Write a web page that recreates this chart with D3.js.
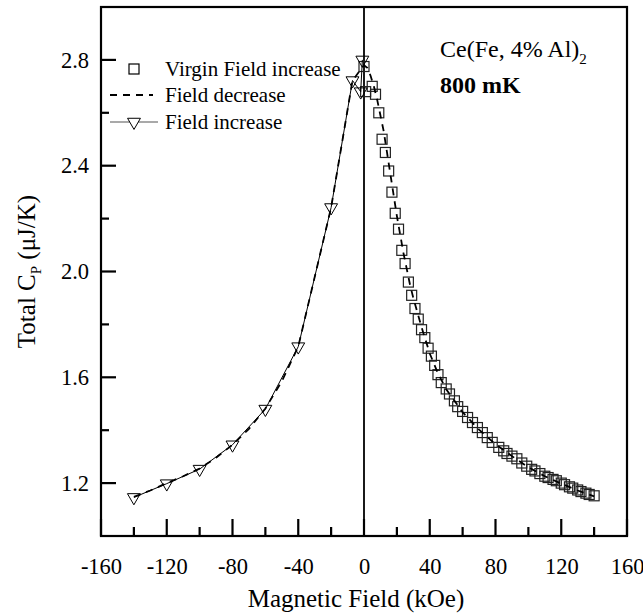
<!DOCTYPE html>
<html>
<head>
<meta charset="utf-8">
<script src="https://d3js.org/d3.v7.min.js"></script>
<style>
  body { margin: 0; background: #fff; }
  text { font-family: "Liberation Serif", "Times New Roman", serif; fill: #000; }
</style>
</head>
<body>
<div id="chart"></div>
<script>
// field increase (triangles, solid line)
var incField = [-140, -120, -100, -80, -60, -40, -20, -7, -2, -1]
var incCp    = [1.146, 1.198, 1.253, 1.345, 1.48, 1.716, 2.242, 2.722, 2.68, 2.80]

// field decrease (dashed line)
var decField = [-140, -130, -120, -110, -100, -90, -80, -70, -60, -50, -40, -20, -7, 0,
                2, 4, 6, 8, 10, 12, 14, 16, 18, 20, 22, 24, 26, 28, 30, 35, 40, 45, 50,
                60, 70, 80, 90, 100, 110, 120, 130, 140]
var decCp    = [1.148, 1.172, 1.2, 1.226, 1.255, 1.296, 1.345, 1.405, 1.482, 1.585, 1.716, 2.242, 2.722, 2.78,
                2.77, 2.74, 2.70, 2.65, 2.59, 2.53, 2.45, 2.37, 2.29, 2.21, 2.14, 2.07, 2.01, 1.95, 1.90, 1.79, 1.69, 1.615, 1.555,
                1.468, 1.402, 1.347, 1.302, 1.26, 1.226, 1.198, 1.172, 1.15]

// virgin field increase (open squares)
var virField = [0, 1, 5, 7, 9, 11, 13, 15, 17, 19, 21, 23, 25, 27, 29, 31, 33, 35, 37, 39, 41, 43, 45, 47,
                50, 52, 55, 57, 60, 63, 66, 69, 72, 75, 78, 82, 85, 87, 90, 93, 96, 99, 102, 104, 107,
                110, 112, 115, 117, 120, 122, 125, 127, 130, 132, 135, 137, 140]
var virCp    = [2.775, 2.68, 2.70, 2.67, 2.60, 2.50, 2.45, 2.38, 2.30, 2.22, 2.16, 2.08, 2.03, 1.96, 1.91, 1.86, 1.82, 1.78, 1.75, 1.71, 1.68, 1.645, 1.61, 1.58,
                1.556, 1.537, 1.511, 1.489, 1.471, 1.448, 1.429, 1.41, 1.391, 1.372, 1.354, 1.335, 1.322, 1.312, 1.302, 1.292, 1.276, 1.264, 1.252, 1.246, 1.236,
                1.226, 1.221, 1.214, 1.209, 1.2, 1.194, 1.186, 1.181, 1.174, 1.168, 1.162, 1.157, 1.152]

var xTicks = [-160, -120, -80, -40, 0, 40, 80, 120, 160]
var xMinor = [-140, -100, -60, -20, 20, 60, 100, 140]
var yTicks = [1.2, 1.6, 2.0, 2.4, 2.8]
var yMinor = [1.4, 1.8, 2.2, 2.6]
var legendLabels = ["Virgin Field increase", "Field decrease", "Field increase"]

// set the dimensions and margins of the graph
var W = 643, H = 614
var margin = {top: 7, right: 16, bottom: 78, left: 101}
var width = W - margin.left - margin.right
var height = H - margin.top - margin.bottom

var svg = d3.select("#chart")
  .append("svg")
    .attr("width", W)
    .attr("height", H)
  .append("g")
    .attr("transform", "translate(" + margin.left + "," + margin.top + ")")

var x = d3.scaleLinear().domain([-160, 160]).range([0, width])
var y = d3.scaleLinear().domain([1.0, 3.0]).range([height, 0])

// axes (labels)
var xAx = svg.append("g")
  .attr("transform", "translate(0," + height + ")")
  .call(d3.axisBottom(x).tickValues(xTicks).tickSize(0).tickPadding(22)
    .tickFormat(function(d) { return String(d) }))
xAx.selectAll("text").style("font-size", "22.5px")
xAx.select(".domain").remove()

var yAx = svg.append("g")
  .call(d3.axisLeft(y).tickValues(yTicks).tickSize(0).tickPadding(12).tickFormat(d3.format(".1f")))
yAx.selectAll("text").style("font-size", "22.5px")
yAx.select(".domain").remove()

// tick marks, pointing inward (major long, minor short)
var xt = xTicks.map(function(v) { return [v, 17] }).concat(xMinor.map(function(v) { return [v, 9] }))
svg.selectAll(".xtick")
  .data(xt)
  .enter()
  .append("line")
    .attr("x1", function(d) { return x(d[0]) })
    .attr("x2", function(d) { return x(d[0]) })
    .attr("y1", height)
    .attr("y2", function(d) { return height - d[1] })
    .attr("stroke", "#000")
    .attr("stroke-width", 2.2)

var yt = yTicks.map(function(v) { return [v, 15] }).concat(yMinor.map(function(v) { return [v, 8] }))
svg.selectAll(".ytick")
  .data(yt)
  .enter()
  .append("line")
    .attr("x1", 0)
    .attr("x2", function(d) { return d[1] })
    .attr("y1", function(d) { return y(d[0]) })
    .attr("y2", function(d) { return y(d[0]) })
    .attr("stroke", "#000")
    .attr("stroke-width", 2.2)

// frame
svg.append("rect")
  .attr("width", width)
  .attr("height", height)
  .attr("fill", "none")
  .attr("stroke", "#000")
  .attr("stroke-width", 2.2)

// vertical line at zero field
svg.append("line")
  .attr("x1", x(0)).attr("x2", x(0))
  .attr("y1", 0).attr("y2", height)
  .attr("stroke", "#000")
  .attr("stroke-width", 1.8)

var line = d3.line()
  .x(function(d) { return x(d[0]) })
  .y(function(d) { return y(d[1]) })

var tri = d3.symbol().type(d3.symbolTriangle).size(72)

// virgin squares
svg.selectAll(".sq")
  .data(d3.zip(virField, virCp))
  .enter()
  .append("rect")
    .attr("x", function(d) { return x(d[0]) - 5 })
    .attr("y", function(d) { return y(d[1]) - 5 })
    .attr("width", 10)
    .attr("height", 10)
    .attr("fill", "none")
    .attr("stroke", "#222")
    .attr("stroke-width", 1.2)

// field increase: line + triangles
svg.append("path")
  .datum(d3.zip(incField, incCp))
  .attr("d", line)
  .attr("fill", "none")
  .attr("stroke", "#000")
  .attr("stroke-width", 1)

svg.selectAll(".tri")
  .data(d3.zip(incField, incCp))
  .enter()
  .append("path")
    .attr("d", tri)
    .attr("transform", function(d) { return "translate(" + x(d[0]) + "," + y(d[1]) + ") rotate(180)" })
    .attr("fill", "none")
    .attr("stroke", "#000")
    .attr("stroke-width", 1)

// field decrease dashed line
svg.append("path")
  .datum(d3.zip(decField, decCp))
  .attr("d", line)
  .attr("fill", "none")
  .attr("stroke", "#000")
  .attr("stroke-width", 1.8)
  .attr("stroke-dasharray", "7,6")

// legend
var lg = svg.append("g")
var rowY = [62, 88, 115]
lg.append("rect")
  .attr("x", 28).attr("y", rowY[0] - 5)
  .attr("width", 10).attr("height", 10)
  .attr("fill", "none").attr("stroke", "#000").attr("stroke-width", 1.2)
lg.append("line")
  .attr("x1", 9).attr("x2", 52).attr("y1", rowY[1]).attr("y2", rowY[1])
  .attr("stroke", "#000").attr("stroke-width", 1.8).attr("stroke-dasharray", "7,6")
lg.append("line")
  .attr("x1", 9).attr("x2", 57).attr("y1", rowY[2]).attr("y2", rowY[2])
  .attr("stroke", "#555").attr("stroke-width", 1.2)
lg.append("path")
  .attr("d", tri)
  .attr("transform", "translate(33," + rowY[2] + ") rotate(180)")
  .attr("fill", "#fff").attr("stroke", "#000").attr("stroke-width", 1)
lg.selectAll(".lt")
  .data(legendLabels)
  .enter()
  .append("text")
    .attr("x", 64)
    .attr("y", function(d, i) { return rowY[i] + 7 })
    .style("font-size", "21px")
    .text(function(d) { return d })

// annotation
var ann = svg.append("text")
  .attr("x", 339).attr("y", 50)
  .style("font-size", "24px")
ann.append("tspan").text("Ce(Fe, 4% Al)")
ann.append("tspan").attr("dy", 7).style("font-size", "15px").text("2")
svg.append("text")
  .attr("x", 339).attr("y", 86)
  .style("font-size", "24px")
  .style("font-weight", "bold")
  .text("800 mK")

// axis titles
svg.append("text")
  .attr("x", width / 2 - 8).attr("y", height + 71)
  .attr("text-anchor", "middle")
  .style("font-size", "25px")
  .text("Magnetic Field (kOe)")

var ytitle = svg.append("text")
  .attr("transform", "translate(-66," + (height / 2) + ") rotate(-90)")
  .attr("text-anchor", "middle")
  .style("font-size", "25px")
ytitle.append("tspan").text("Total C")
ytitle.append("tspan").attr("dy", 6).style("font-size", "15px").text("P")
ytitle.append("tspan").attr("dy", -6).text(" (\u03bcJ/K)")
</script>
</body>
</html>
